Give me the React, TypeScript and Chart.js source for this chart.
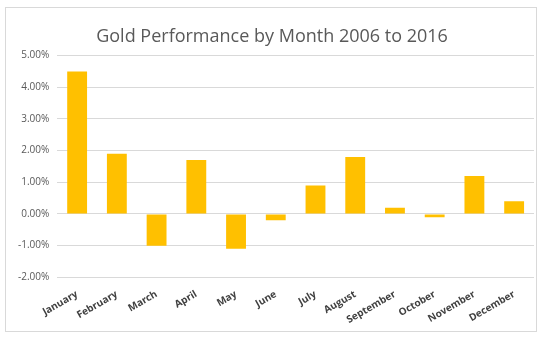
import React, { useEffect, useRef } from "react";
import { Chart, registerables } from "chart.js";

Chart.register(...registerables);

const months = ["January", "February", "March", "April", "May", "June", "July", "August", "September", "October", "November", "December"];
const performance = [4.5, 1.9, -1.0, 1.7, -1.1, -0.2, 0.9, 1.8, 0.2, -0.1, 1.2, 0.4];
const titleText = "Gold Performance by Month 2006 to 2016";

export default function App() {
  const ref = useRef<HTMLCanvasElement>(null);
  useEffect(() => {
    document.body.style.margin = "0";
    const chart = new Chart(ref.current!, {
      type: "bar",
      data: {
        labels: months,
        datasets: [
          {
            data: performance,
            backgroundColor: "#FFC000",
            barPercentage: 0.5,
            categoryPercentage: 1,
          },
        ],
      },
      options: {
        animation: false,
        responsive: false,
        maintainAspectRatio: false,
        layout: { padding: { left: 4, right: 2, top: 18, bottom: 2 } },
        plugins: {
          legend: { display: false },
          tooltip: { enabled: false },
          title: {
            display: true,
            text: titleText,
            color: "#595959",
            font: { family: "Open Sans", size: 18, weight: "normal" },
            padding: { top: 0, bottom: 8 },
          },
        },
        scales: {
          x: {
            grid: { display: false },
            border: { display: false },
            ticks: {
              color: "#404040",
              font: { family: "Open Sans", size: 10, weight: "bold" },
              maxRotation: 30,
              minRotation: 30,
              autoSkip: false,
            },
          },
          y: {
            min: -2,
            max: 5,
            grid: { color: "#d9d9d9", drawTicks: false },
            border: { display: false },
            ticks: {
              stepSize: 1,
              color: "#595959",
              padding: 8,
              font: { family: "Open Sans", size: 10 },
              callback: (v: any) => Number(v).toFixed(2) + "%",
            },
          },
        },
      },
    });
    return () => chart.destroy();
  }, []);
  return (
    <div
      style={{
        position: "absolute",
        left: 5,
        top: 7,
        width: 532,
        height: 325,
        border: "1px solid #d9d9d9",
        boxSizing: "border-box",
        background: "#fff",
      }}
    >
      <canvas ref={ref} width={530} height={323} style={{ display: "block" }} />
    </div>
  );
}
